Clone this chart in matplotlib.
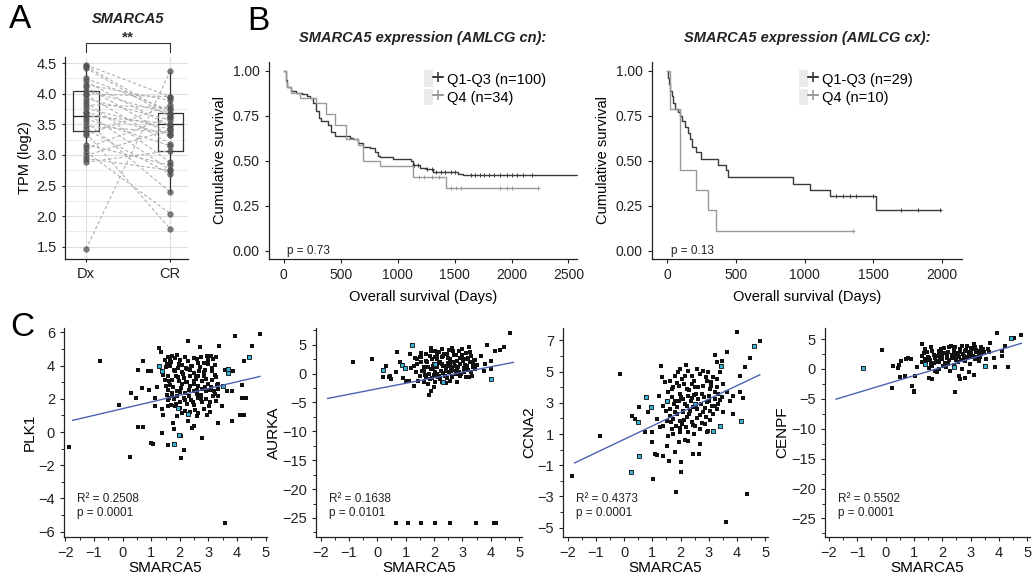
import numpy as np
import matplotlib.pyplot as plt
from matplotlib.lines import Line2D
from matplotlib.patches import Rectangle
from matplotlib.legend_handler import HandlerTuple
from matplotlib.ticker import MultipleLocator

plt.rcParams['font.family'] = ['Liberation Sans', 'DejaVu Sans']

# ---------------- Panel A: paired TPM values ----------------
dx_vals = [4.47, 4.42, 4.25, 4.20, 4.15, 4.11, 4.05, 3.98, 3.92, 3.86, 3.82, 3.76,
           3.69, 3.64, 3.59, 3.54, 3.47, 3.42, 3.36, 3.33, 3.17, 3.11, 3.05, 2.99,
           2.94, 2.88, 1.46, 4.45, 4.00, 3.70]
cr_vals = [3.95, 3.62, 3.73, 3.47, 3.89, 3.32, 3.67, 3.18, 3.57, 2.88, 3.77, 3.42,
           2.75, 3.51, 3.15, 2.39, 3.37, 2.69, 1.79, 3.81, 2.83, 3.62, 2.04, 3.42,
           2.75, 3.07, 4.37, 3.67, 3.95, 3.32]
box_stats = [dict(med=3.64, q1=3.39, q3=4.04, whislo=2.88, whishi=4.47, fliers=[]),
             dict(med=3.50, q1=3.07, q3=3.69, whislo=2.39, whishi=4.37, fliers=[])]
groups_a = ['Dx', 'CR']

# ---------------- Panel B: Kaplan-Meier curves ----------------
cn_q13_t = [0, 15, 30, 60, 110, 160, 205, 234, 260, 287, 310, 330, 389, 418, 447, 579,
            608, 652, 696, 754, 798, 827, 842, 959, 1120, 1135, 1193, 1251, 1310,
            1529, 1573, 2580]
cn_q13_s = [1.0, 0.95, 0.91, 0.89, 0.88, 0.87, 0.86, 0.85, 0.82, 0.78, 0.74, 0.72,
            0.70, 0.66, 0.64, 0.63, 0.62, 0.60, 0.58, 0.57, 0.55, 0.53, 0.52, 0.51,
            0.50, 0.48, 0.46, 0.455, 0.44, 0.43, 0.42, 0.42]
cn_q13_cens = [1140, 1180, 1260, 1300, 1340, 1380, 1420, 1470, 1500, 1640, 1680, 1720,
               1760, 1800, 1850, 1900, 1960, 2000, 2050, 2100, 2180, 2580]
cn_q4_t = [0, 18, 25, 60, 140, 287, 368, 447, 550, 652, 696, 842, 1135, 1427, 2231]
cn_q4_s = [1.0, 0.94, 0.91, 0.88, 0.85, 0.82, 0.76, 0.70, 0.62, 0.59, 0.50, 0.47,
           0.41, 0.35, 0.35]
cn_q4_cens = [1190, 1230, 1300, 1360, 1470, 1510, 1560, 1900, 1960, 2000, 2231]

cx_q13_t = [0, 7, 15, 24, 34, 44, 58, 80, 92, 112, 128, 153, 165, 184, 208, 250, 371,
            432, 444, 916, 1038, 1183, 1522, 1995]
cx_q13_s = [1.0, 0.96, 0.93, 0.89, 0.86, 0.82, 0.79, 0.77, 0.75, 0.72, 0.69, 0.655,
            0.62, 0.58, 0.55, 0.51, 0.48, 0.45, 0.41, 0.37, 0.34, 0.305, 0.23, 0.23]
cx_q13_cens = [1232, 1280, 1329, 1377, 1498, 1704, 1825, 1983]
cx_q4_t = [0, 19, 92, 97, 213, 300, 359, 1353]
cx_q4_s = [1.0, 0.79, 0.56, 0.45, 0.34, 0.225, 0.11, 0.11]
cx_q4_cens = [1353]

# ---------------- Panel C: correlation scatters ----------------
plk1_x = [-1.86, -0.78, 0.27, -0.14, 0.53, 0.73, 0.30, 0.47, 0.67, 0.53, 0.73, 0.88, 1.0,
          0.93, 1.0, 1.05, 1.37, 1.22, 1.14, 1.12, 1.28, 1.35, 1.26, 1.37, 1.43, 1.49,
          1.37, 1.40, 1.58, 1.81, 1.78, 1.76, 1.90, 1.93, 1.98, 2.05, 2.03, 2.14, 2.07,
          2.28, 2.30, 2.30, 2.42, 2.51, 2.59, 2.77, 2.71, 2.94, 3.35, 3.38, 3.58, 3.81,
          4.10, 4.26, 4.16, 4.30, 4.16, 3.93, 4.80, 4.26, 4.43, 4.53, 3.87, 3.70, 3.58,
          3.67, 3.52, 3.29, 3.35, 3.47, 3.64, 3.84,
          1.58, 1.66, 1.72, 1.84, 1.90, 2.01, 2.07, 2.19, 2.30, 2.42, 2.48, 2.59, 2.65,
          2.74, 2.83, 2.94, 3.00, 3.09, 3.17, 3.23, 3.26, 3.12, 2.88, 2.67, 2.51, 2.36,
          2.21, 2.09, 1.95, 1.81, 1.66, 1.55, 1.47,
          1.60, 1.74, 1.86, 1.98, 2.13, 2.24, 2.36, 2.48, 2.57, 2.65, 2.77, 2.86, 3.00,
          3.14, 3.23, 3.06, 2.91, 2.74, 2.59, 2.48, 2.33, 2.19, 2.03, 1.90, 1.72, 1.58,
          1.66, 1.51,
          1.55, 1.63, 1.78, 1.90, 2.01, 2.13, 2.24, 2.40, 2.51, 2.63, 2.77, 2.91, 3.02,
          3.17, 3.26, 2.53, 2.36, 2.19, 2.02, 1.84, 1.70, 1.58, 2.65, 2.83, 3.06, 3.35,
          1.52, 1.68, 1.83, 1.97, 2.11, 2.26, 2.40, 2.55, 2.70, 2.85, 2.99, 3.13, 3.28,
          1.62, 1.77, 1.92, 2.06, 2.21, 2.35, 2.50, 2.64, 2.79, 2.93, 3.08, 3.22, 1.57,
          1.73, 1.88, 2.02, 2.17, 2.31, 2.46, 2.60, 2.75, 2.89, 3.04, 3.18, 3.33]
plk1_y = [-0.88, 4.30, -1.50, 1.60, 0.32, 0.32, 2.36, 2.06, 2.66, 3.76, 4.26, 3.70, 3.66,
          2.56, -0.64, -0.74, -0.08, 2.70, 1.56, 2.06, 5.06, 4.80, 3.96, 3.66, 3.46, 3.16,
          1.36, 1.00, -0.78, -0.74, 0.16, 0.56, 0.96, 1.46, -0.20, -0.24, -1.54, -1.08, 1.16,
          1.06, 0.66, 5.46, 0.26, 0.36, 0.96, -0.34, 5.12, 1.00, 0.52, 5.16, -5.48, 0.66,
          1.00, 1.00, 2.06, 2.06, 2.86, 5.80, 5.92, 4.26, 4.50, 5.16, 3.66, 3.56, 3.72,
          3.80, 2.76, 2.86, 2.62, 1.56, 2.46, 2.50,
          4.52, 4.36, 4.60, 4.46, 4.66, 4.36, 4.06, 4.52, 4.26, 3.96, 4.46, 4.40, 4.16,
          4.52, 4.16, 4.60, 4.32, 4.60, 4.40, 4.06, 4.52, 3.86, 3.76, 3.66, 3.56, 3.72,
          3.86, 3.60, 3.86, 3.76, 3.96, 4.10, 4.36,
          3.36, 3.16, 3.40, 3.06, 3.26, 3.00, 3.36, 2.92, 3.20, 2.76, 3.06, 3.36, 2.92,
          3.16, 3.46, 2.56, 2.46, 2.26, 2.56, 2.46, 2.56, 2.36, 2.66, 2.46, 2.36, 2.56,
          2.86, 2.80,
          2.26, 2.06, 1.96, 2.16, 1.80, 2.06, 1.66, 1.92, 1.60, 2.06, 1.80, 1.96, 1.56,
          2.16, 1.86, 1.32, 1.20, 1.26, 1.46, 1.56, 1.60, 1.56, 1.12, 1.36, 1.20, 2.16,
          3.90, 4.20, 3.70, 4.10, 3.50, 3.80, 4.00, 3.30, 3.90, 3.60, 4.10, 3.70, 3.30,
          3.10, 2.70, 3.30, 2.90, 3.00, 2.80, 3.10, 3.40, 2.60, 3.20, 2.70, 2.30, 1.90,
          2.20, 1.70, 2.40, 1.90, 2.20, 1.80, 2.30, 2.00, 2.70, 1.80, 2.50, 2.90]
plk1_hl_x = [1.26, 1.37, 1.81, 1.93, 1.98, 2.28, 3.70, 3.67, 3.52, 4.43]
plk1_hl_y = [3.96, 3.66, -0.74, 1.46, -0.20, 1.06, 3.56, 3.80, 2.76, 4.50]

aurka_x = [0.65, 1.09, 1.53, 2.05, 2.58, 3.49, 4.13, 4.20,
           -0.85, -0.20, 0.21, 0.20, 0.29, 0.41, 0.49, 0.45, 0.70, 0.80, 0.88, 0.96, 0.65,
           0.92, 1.00, 1.17, 1.23, 1.11, 1.29, 1.33, 1.41, 1.50, 1.88, 1.82, 1.88, 2.00,
           2.29, 2.41, 2.82, 3.11, 3.23, 3.35, 3.46, 3.76, 3.87, 3.99, 4.01, 4.01, 4.14,
           4.31, 4.46, 4.69, 3.64, 3.78,
           1.53, 1.70, 1.85, 2.02, 2.17, 2.29, 2.44, 2.52, 2.64, 2.76, 2.88, 2.99, 3.11,
           3.23, 3.31, 2.29, 2.58, 2.93, 2.11, 1.94,
           1.29, 1.41, 1.55, 1.64, 1.76, 1.88, 2.00, 2.09, 2.21, 2.32, 2.41, 2.49, 2.61,
           2.70, 2.82, 2.91, 3.03, 3.15, 3.26, 3.38, 3.52, 1.58, 1.82, 2.05, 2.23, 2.52,
           2.76, 3.05, 3.29, 2.93, 2.64, 2.37, 2.14, 1.94, 1.70, 1.50, 1.35, 1.20, 1.43,
           1.64, 1.78, 2.02, 2.21, 2.58,
           2.30, 2.70, 3.00, 3.40, 2.45, 2.85, 3.20, 2.10, 1.95, 2.60,
           1.55, 1.72, 1.88, 2.03, 2.19, 2.35, 2.50, 2.66, 2.81, 2.97, 3.12, 3.28, 3.44,
           1.63, 1.80, 1.96, 2.11, 2.27, 2.43, 2.58, 2.74, 2.89, 3.05, 3.20, 3.36, 1.68,
           1.85, 2.00, 2.16, 2.32, 2.47, 2.63, 2.78, 2.94, 3.10]
aurka_y = [-25.8, -25.8, -25.8, -25.8, -25.8, -25.8, -25.8, -25.8,
           1.96, 2.54, 0.63, -0.63, 1.38, -0.63, -0.92, -0.35, 3.80, 2.08, 1.50, 0.92, 0.23,
           -0.80, -1.20, 3.40, 5.00, -1.20, -2.08, 2.70, 2.54, 2.83, 4.38, -3.69, -2.94,
           -2.36, -1.50, -1.61, -1.38, -0.63, -0.63, -0.35, 0.81, 0.52, 4.96, 2.25, 0.81,
           -0.92, 3.98, 4.15, 4.56, 7.04, 3.11, 1.67,
           2.83, 3.40, 3.11, 3.98, 3.69, 4.27, 3.40, 4.15, 4.38, 3.23, 3.98, 4.27, 3.58,
           4.56, 3.11, 2.83, 2.54, 2.65, 2.54, 2.54,
           1.38, 1.67, 2.08, 1.10, 1.96, 0.81, 1.67, 1.10, 2.08, 1.38, 0.81, 1.85, 1.10,
           1.96, 0.92, 1.67, 2.25, 1.27, 1.96, 1.10, 1.50, 0.52, -0.06, 0.23, 0.52, 0.23,
           -0.06, 0.23, 0.23, -0.35, -0.63, -0.35, -0.63, -0.81, -0.63, -0.35, 0.23, 0.92,
           -1.21, -1.50, -1.79, -1.38, -0.92, -1.21,
           3.00, 3.30, 2.90, 2.40, 1.40, 1.20, 2.70, 3.20, 1.40, 0.50,
           3.60, 2.20, 3.90, 2.90, 1.80, 3.40, 2.70, 3.90, 2.10, 3.20, 2.60, 3.70, 2.40,
           0.40, 1.20, 0.90, 0.00, 1.60, 0.50, 1.90, 1.30, 0.30, 1.00, 0.60, 1.70, -0.30,
           -1.00, -0.20, -0.50, 0.10, -0.80, 0.70, 0.40, -0.10, 1.50]
aurka_hl_x = [0.21, 0.88, 0.96, 1.23, 4.01, 2.30, 2.05]
aurka_hl_y = [0.63, 1.50, 0.92, 5.00, -0.92, -1.50, 1.67]

ccna2_x = [-1.85, -0.85, -0.14, 0.25, 0.52, 0.27, 0.39, 0.48, 0.54, 0.77, 0.86, 0.95,
           0.74, 0.98, 0.98, 1.04, 1.10, 1.15, 1.39, 1.24, 1.30, 1.33, 1.45, 1.15, 1.27,
           1.51, 1.53, 1.59, 1.80, 1.83, 2.00, 2.01, 1.94, 2.16, 2.27, 2.45, 2.66, 2.69,
           2.92, 3.16, 3.39, 3.51, 3.84, 4.14, 4.33, 3.60, 3.98, 4.59, 4.81, 4.45, 4.28,
           4.10, 4.19, 4.10, 3.86, 3.63, 3.45, 3.43, 3.22, 3.27, 2.19, 1.98,
           1.63, 1.80, 1.92, 2.04, 2.12, 2.27, 2.39, 2.47, 2.57, 2.69, 2.78, 2.90, 2.98,
           3.06, 3.16, 3.27, 3.39, 3.51, 1.74, 1.96, 2.21, 2.51, 2.80, 3.04, 3.27, 2.39,
           1.39, 1.48, 1.57, 1.68, 1.80, 1.88, 1.98, 2.07, 2.16, 2.25, 2.36, 2.43, 2.54,
           2.63, 2.71, 2.83, 2.92, 3.02, 3.10, 3.22, 3.33, 3.45, 3.63, 3.75, 1.63, 1.86,
           2.10, 2.33, 2.57, 2.80, 3.04, 3.27, 1.74, 1.98, 2.21,
           1.39, 1.51, 1.68, 1.84, 2.04, 2.19, 2.39, 2.51, 2.69, 2.86, 2.98, 2.47, 2.27,
           1.98, 1.74, 1.57,
           1.55, 1.70, 1.86, 2.01, 2.16, 2.31, 2.47, 2.62, 2.77, 2.92, 3.08, 3.23, 3.38,
           1.62, 1.78, 1.93, 2.09, 2.24, 2.39, 2.55, 2.70, 2.85, 3.00, 3.16, 3.31, 1.66,
           1.81, 1.97, 2.12, 2.28, 2.43, 2.58, 2.74, 2.89, 3.05, 3.20]
ccna2_y = [-1.71, 0.89, 4.85, -1.46, -0.39, 2.13, 1.99, 1.75, 2.71, 3.35, 2.39, 2.75,
           1.11, 1.11, 0.47, -1.88, -0.28, -0.35, -0.39, 3.41, 5.38, 4.63, 4.31, 1.96, 1.43,
           3.14, 0.25, -0.71, -0.18, -2.70, -0.82, -1.46, 0.51, 0.62, 0.57, -0.28, -0.28,
           0.36, 1.11, 1.21, 1.53, 2.39, 2.28, 1.85, -2.85, -4.66, 7.52, 6.66, 6.94, 5.85,
           5.32, 4.70, 3.29, 3.71, 3.41, 6.24, 5.70, 5.34, 6.06, 5.64, 5.42, 5.17,
           4.42, 4.74, 4.95, 4.53, 4.21, 5.06, 4.74, 4.42, 5.17, 4.85, 5.06, 4.63, 4.95,
           4.31, 4.63, 4.53, 4.95, 4.21, 3.99, 4.10, 3.88, 3.99, 4.10, 3.88, 3.99, 4.21,
           2.82, 2.50, 3.03, 3.35, 3.14, 2.71, 3.56, 3.24, 2.92, 3.46, 3.14, 2.71, 3.56,
           3.24, 2.92, 3.35, 3.03, 3.46, 2.82, 3.24, 2.92, 3.35, 3.67, 3.14, 2.18, 2.28,
           2.39, 2.50, 2.60, 2.43, 2.50, 2.60, 1.96, 1.85, 2.07,
           1.53, 1.85, 1.32, 1.53, 1.64, 1.43, 1.75, 1.53, 1.32, 1.64, 1.21, 1.00, 1.11,
           1.11, 1.00, 0.89,
           3.70, 3.90, 4.30, 3.40, 4.70, 3.80, 3.50, 4.00, 3.60, 4.40, 4.10, 3.70, 3.20,
           2.60, 2.90, 3.10, 2.50, 2.80, 3.30, 2.90, 2.20, 2.70, 3.10, 2.30, 3.60, 1.80,
           2.40, 1.40, 1.90, 2.30, 1.60, 2.00, 1.70, 2.10, 1.90, 2.80]
ccna2_hl_x = [0.25, 0.52, 0.48, 0.77, 0.95, 1.51, 3.16, 3.39, 4.14, 4.59, 3.43, 2.50]
ccna2_hl_y = [-1.46, -0.39, 1.75, 3.35, 2.75, 3.14, 1.21, 1.53, 1.85, 6.66, 5.34, 2.95]

cenpf_x = [-0.80, -0.13, 0.22, 0.26, 0.44, 0.48, 0.55, 0.51, 0.67, 0.72, 0.79, 0.91,
           0.95, 1.02, 0.99, 1.05, 1.11, 1.28, 1.40, 1.54, 1.64, 1.81, 2.46, 2.58, 2.64,
           2.79, 3.11, 3.50, 3.85, 4.31, 3.93, 4.42, 4.55, 4.79, 4.11, 4.20, 3.82, 3.70,
           4.11, 3.64,
           1.28, 1.38, 1.46, 1.54, 1.61, 1.70, 1.78, 1.87, 1.93, 2.01, 2.08, 2.17, 2.25,
           2.32, 2.40, 2.49, 2.56, 2.64, 2.72, 2.79, 2.87, 2.96, 3.03, 3.11, 3.19, 3.29,
           3.38, 3.46, 3.55, 1.40, 1.64, 1.90, 2.13, 2.40, 2.70, 2.99, 3.29, 1.52, 1.76,
           2.29, 2.93, 1.28, 1.99, 2.46, 2.87, 3.17,
           1.70, 2.10, 2.60, 2.20, 2.50, 2.80, 3.00, 3.20, 1.90, 2.35, 2.65, 3.35, 3.60,
           3.00, 2.00,
           1.35, 1.50, 1.65, 1.80, 1.95, 2.10, 2.25, 2.40, 2.55, 2.70, 2.85, 3.00, 3.15,
           3.30, 3.45, 1.42, 1.58, 1.73, 1.88, 2.03, 2.18, 2.33, 2.48, 2.63, 2.78, 2.93,
           3.08, 3.23, 3.38, 1.60, 1.90, 2.20, 2.50, 2.80, 3.10, 3.40]
cenpf_y = [0.11, 3.18, -3.24, 0.56, 0.11, 0.67, 1.40, -1.40, -1.12, 1.68, 1.79, 1.68,
           -2.79, -3.63, -3.91, -1.12, 0.28, 4.19, 0.84, -1.56, -1.68, -0.56, -3.80, -1.12,
           -1.68, -1.56, -1.01, 0.56, 0.28, 0.28, 6.03, 5.14, 5.14, 5.70, 3.07, 3.80, 1.79,
           4.36, 2.12, 2.79,
           2.23, 3.35, 2.79, 1.79, 3.63, 2.35, 1.23, 3.07, 1.96, 0.56, 3.46, 2.51, 1.56,
           3.91, 2.91, 2.12, 1.12, 3.35, 2.51, 1.68, 3.80, 2.79, 1.96, 4.19, 3.24, 2.35,
           3.63, 2.79, 1.68, 1.68, 0.56, 0.00, 0.28, 0.67, 0.00, 0.84, 1.40, 0.11, -0.28,
           -0.28, -0.56, 1.12, 1.68, 3.63, 1.96, 1.68,
           1.00, 1.00, 2.00, 2.90, 2.60, 3.00, 3.50, 2.90, 2.60, 1.90, 1.50, 2.00, 3.30,
           2.20, 2.20,
           2.60, 2.00, 3.00, 2.20, 3.30, 2.70, 3.60, 3.20, 2.40, 3.90, 3.10, 2.60, 3.70,
           3.00, 3.40, 1.20, 1.50, 1.90, 1.30, 2.60, 1.90, 2.30, 1.50, 2.80, 2.20, 2.40,
           3.30, 2.00, 2.50, 0.80, 1.10, 0.90, 1.80, 1.30, 2.10, 2.90]
cenpf_hl_x = [-0.80, 1.40, 3.50, 4.42, 2.40]
cenpf_hl_y = [0.11, 0.84, 0.56, 5.14, 0.30]

# fitted regression lines (end points)
fit_x = [-1.75, 4.80]
plk1_fit = [0.70, 3.35]
aurka_fit = [-4.30, 1.95]
ccna2_fit = [-0.85, 4.80]
cenpf_fit = [-5.05, 4.30]

GRAY_DARK = '#3a3a3a'
GRAY_LIGHT = '#9a9a9a'
FIT_BLUE = '#4a63b3'

fig = plt.figure(figsize=(10.35, 5.75), dpi=100)
W, H = 1035, 575


def add_axes_px(left, top, right, bottom):
    return fig.add_axes([left / W, 1 - bottom / H, (right - left) / W, (bottom - top) / H])


def style_spines(ax):
    for side in ['top', 'right']:
        ax.spines[side].set_visible(False)
    for side in ['left', 'bottom']:
        ax.spines[side].set_color('#222222')
        ax.spines[side].set_linewidth(0.9)
    ax.tick_params(colors='#222222', labelcolor='#222222', width=0.8, length=3)


# ---------------- Panel A ----------------
ax_a = add_axes_px(65, 57, 188, 259)
ax_a.bxp(box_stats, positions=[1, 2], widths=0.3, showcaps=False, showfliers=False,
         manage_ticks=False,
         boxprops=dict(color='#333333', lw=0.9), whiskerprops=dict(color='#333333', lw=0.9),
         medianprops=dict(color='#222222', lw=0.9), zorder=2)
for d, c in zip(dx_vals, cr_vals):
    ax_a.plot([1, 2], [d, c], color='#b0b0b0', lw=0.8, ls=(0, (3, 2)), zorder=3)
ax_a.scatter(np.ones(len(dx_vals)), dx_vals, s=16, color='#555555', alpha=0.75,
             edgecolors='#444444', linewidths=0.4, zorder=4)
ax_a.scatter(np.full(len(cr_vals), 2), cr_vals, s=16, color='#555555', alpha=0.75,
             edgecolors='#444444', linewidths=0.4, zorder=4)
ax_a.set_xlim(0.75, 2.21)
ax_a.set_ylim(1.30, 4.60)
ax_a.yaxis.set_major_locator(MultipleLocator(0.5))
ax_a.yaxis.set_minor_locator(MultipleLocator(0.25))
ax_a.set_xticks([1, 2])
ax_a.set_xticklabels(groups_a)
ax_a.grid(which='major', color='#dedede', lw=0.8)
ax_a.grid(which='minor', axis='y', color='#e8e8e8', lw=0.6)
ax_a.set_axisbelow(True)
style_spines(ax_a)
ax_a.tick_params(which='minor', length=0)
ax_a.tick_params(axis='both', labelsize=10.5, length=2.5)
ax_a.set_ylabel('TPM (log2)', fontsize=10.5, labelpad=3)
tr = ax_a.get_xaxis_transform()
ax_a.plot([1, 1, 2, 2], [1.025, 1.07, 1.07, 1.025], color='#333333', lw=0.8,
          transform=tr, clip_on=False)
ax_a.text(1.5, 1.095, '**', transform=tr, ha='center', va='center', fontsize=11,
          fontweight='bold', color='#333333')
ax_a.text(0.51, 1.19, 'SMARCA5', transform=ax_a.transAxes, ha='center', va='center',
          fontsize=10.5, fontweight='bold', fontstyle='italic', color='#222222')
fig.text(20 / W, 1 - 20 / H, 'A', fontsize=24, ha='center', va='center')


# ---------------- Panel B ----------------
def km_panel(ax, curves, xlim, xticks, title, pval):
    handles, labels = [], []
    for t, s, cens, color, label in curves:
        ax.step(t, s, where='post', color=color, lw=1.0)
        cs = [s[np.searchsorted(t, c, side='right') - 1] for c in cens]
        ax.plot(cens, cs, '+', color=color, ms=3.5, mew=0.7, ls='none')
        handles.append((Rectangle((0, 0), 1, 1, fc='#ebebeb', ec='none'),
                        Line2D([], [], color=color, marker='+', ms=7, mew=1.2, lw=1.3)))
        labels.append(label)
    ax.set_xlim(*xlim)
    ax.set_ylim(-0.045, 1.05)
    ax.set_xticks(xticks)
    ax.set_yticks([0, 0.25, 0.5, 0.75, 1.0])
    ax.set_yticklabels(['0.00', '0.25', '0.50', '0.75', '1.00'])
    style_spines(ax)
    ax.tick_params(labelsize=10)
    ax.set_xlabel('Overall survival (Days)', fontsize=10.5, labelpad=6)
    ax.set_ylabel('Cumulative survival', fontsize=10.5, labelpad=4)
    ax.text(0.5, 1.12, title, transform=ax.transAxes, ha='center', va='center',
            fontsize=10.5, fontweight='bold', fontstyle='italic', color='#222222')
    ax.text(0.06, 0.04, pval, transform=ax.transAxes, ha='left', va='center', fontsize=8.5,
            color='#222222')
    return handles, labels


ax_b1 = add_axes_px(269, 62, 577, 259)
h, l = km_panel(ax_b1,
                [(cn_q13_t, cn_q13_s, cn_q13_cens, GRAY_DARK, 'Q1-Q3 (n=100)'),
                 (cn_q4_t, cn_q4_s, cn_q4_cens, GRAY_LIGHT, 'Q4 (n=34)')],
                (-130, 2575), [0, 500, 1000, 1500, 2000, 2500],
                'SMARCA5 expression (AMLCG cn):', 'p = 0.73')
ax_b1.legend(h, l, handler_map={tuple: HandlerTuple(ndivide=None, pad=0)},
             loc='upper left', bbox_to_anchor=(0.47, 1.01), frameon=False, fontsize=10.5,
             handlelength=1.3, handleheight=1.4, handletextpad=0.3, labelspacing=0.1,
             borderpad=0.2)

ax_b2 = add_axes_px(652, 62, 962, 259)
h, l = km_panel(ax_b2,
                [(cx_q13_t, cx_q13_s, cx_q13_cens, GRAY_DARK, 'Q1-Q3 (n=29)'),
                 (cx_q4_t, cx_q4_s, cx_q4_cens, GRAY_LIGHT, 'Q4 (n=10)')],
                (-109, 2145), [0, 500, 1000, 1500, 2000],
                'SMARCA5 expression (AMLCG cx):', 'p = 0.13')
ax_b2.legend(h, l, handler_map={tuple: HandlerTuple(ndivide=None, pad=0)},
             loc='upper left', bbox_to_anchor=(0.44, 1.01), frameon=False, fontsize=10.5,
             handlelength=1.3, handleheight=1.4, handletextpad=0.3, labelspacing=0.1,
             borderpad=0.2)
fig.text(258 / W, 1 - 22 / H, 'B', fontsize=24, ha='center', va='center')


# ---------------- Panel C ----------------
def scatter_panel(ax, xs, ys, hx, hy, fit_y, ylim, ymajor, yminor, ylabel, r2, pv):
    ax.scatter(xs, ys, marker='s', s=9, color='#111111', linewidths=0, zorder=2)
    ax.scatter(hx, hy, marker='s', s=9, facecolor='#39b4d4', edgecolor='#111111',
               linewidths=0.6, zorder=3)
    ax.plot(fit_x, fit_y, color=FIT_BLUE, lw=1.0, zorder=4)
    ax.set_ylim(*ylim)
    ax.xaxis.set_major_locator(MultipleLocator(1))
    ax.xaxis.set_minor_locator(MultipleLocator(0.5))
    ax.yaxis.set_major_locator(MultipleLocator(ymajor))
    ax.yaxis.set_minor_locator(MultipleLocator(yminor))
    style_spines(ax)
    ax.tick_params(which='minor', length=2, width=0.7, colors='#222222')
    ax.tick_params(labelsize=10.5)
    ax.set_xlabel('SMARCA5', fontsize=11, labelpad=1)
    ax.set_ylabel(ylabel, fontsize=11, labelpad=1)
    ax.text(0.065, 0.18, 'R² = ' + r2, transform=ax.transAxes, fontsize=8.5,
            va='center', color='#222222')
    ax.text(0.065, 0.115, 'p = ' + pv, transform=ax.transAxes, fontsize=8.5,
            va='center', color='#222222')


ax_c1 = add_axes_px(64, 328, 267, 537)
ax_c1.set_xlim(-2.05, 5.05)
scatter_panel(ax_c1, plk1_x, plk1_y, plk1_hl_x, plk1_hl_y, plk1_fit, (-6.33, 6.27),
              2, 1, 'PLK1', '0.2508', '0.0001')
ax_c2 = add_axes_px(316, 328, 522, 537)
ax_c2.set_xlim(-2.16, 5.1)
scatter_panel(ax_c2, aurka_x, aurka_y, aurka_hl_x, aurka_hl_y, aurka_fit, (-28.3, 7.9),
              5, 2.5, 'AURKA', '0.1638', '0.0101')
ax_c3 = add_axes_px(563, 328, 768, 537)
ax_c3.set_xlim(-2.16, 5.09)
scatter_panel(ax_c3, ccna2_x, ccna2_y, ccna2_hl_x, ccna2_hl_y, ccna2_fit, (-5.6, 7.8),
              2, 1, 'CCNA2', '0.4373', '0.0001')
ax_c3.set_yticks([-5, -3, -1, 1, 3, 5, 7])
ax_c4 = add_axes_px(825, 328, 1030, 537)
ax_c4.set_xlim(-2.14, 5.1)
scatter_panel(ax_c4, cenpf_x, cenpf_y, cenpf_hl_x, cenpf_hl_y, cenpf_fit, (-28.1, 6.85),
              5, 2.5, 'CENPF', '0.5502', '0.0001')
fig.text(22 / W, 1 - 328 / H, 'C', fontsize=24, ha='center', va='center')

fig.savefig('out.png', dpi=100)
